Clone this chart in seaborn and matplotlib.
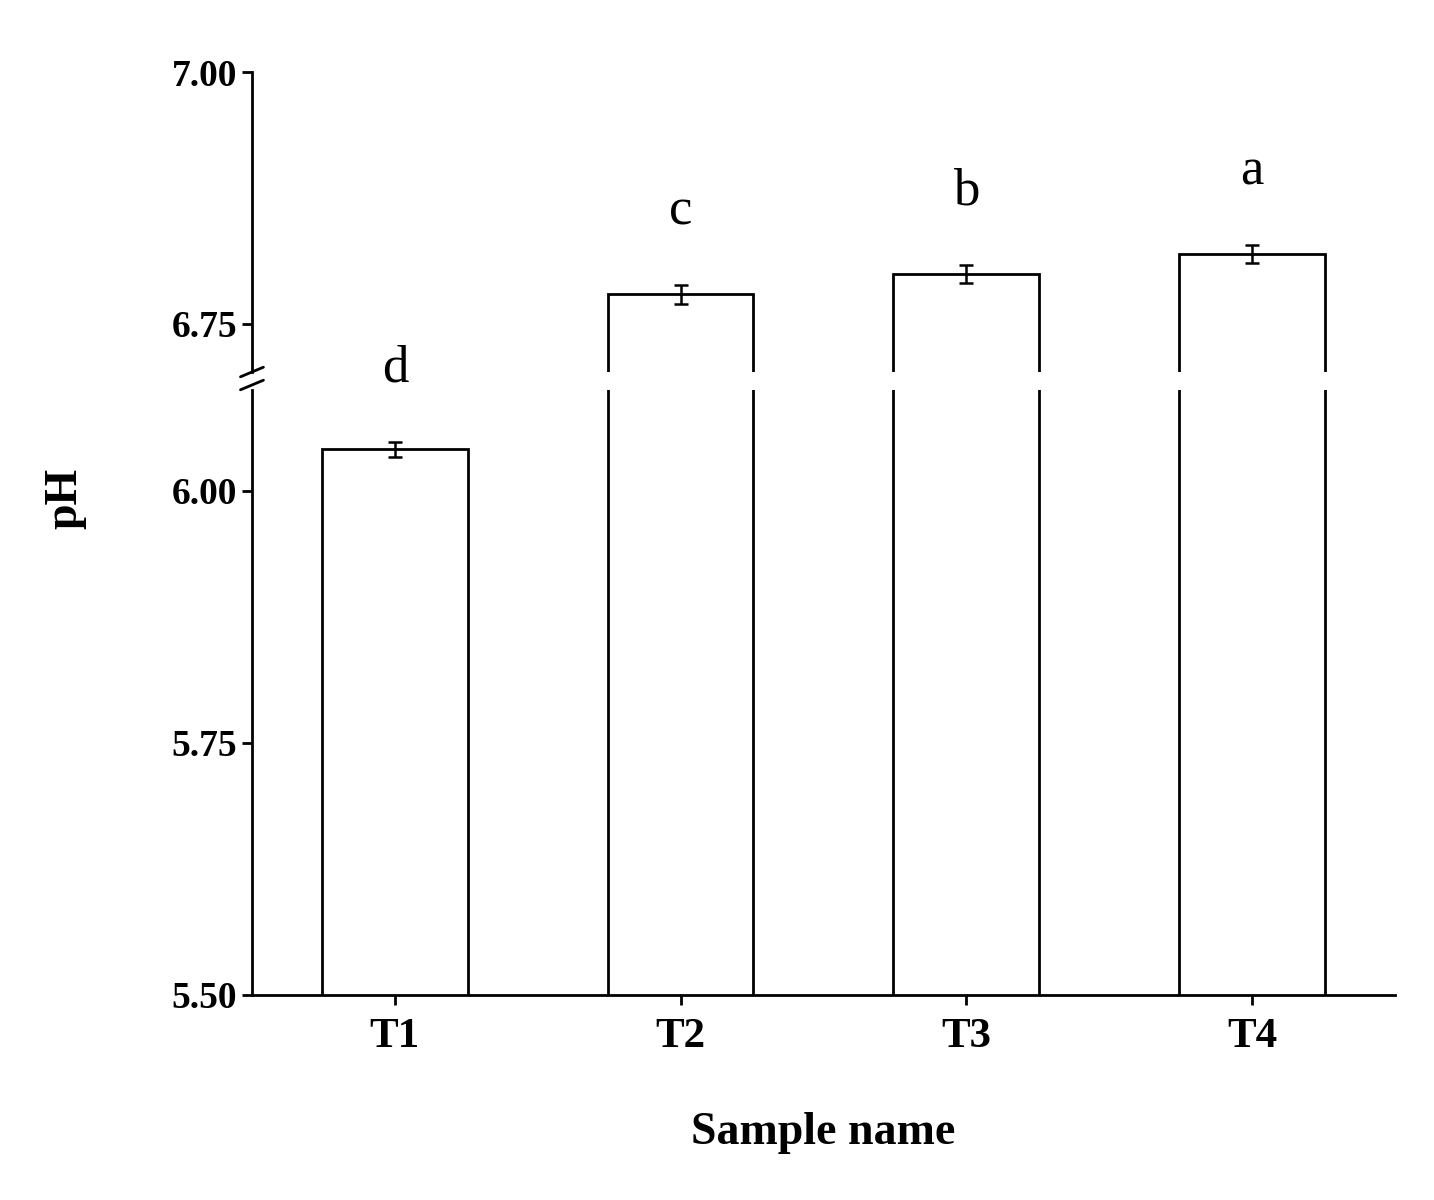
import matplotlib
matplotlib.use("Agg")
import matplotlib.pyplot as plt
import seaborn as sns
import pandas as pd

samples = ["T1", "T2", "T3", "T4"]
ph = [6.041, 6.779, 6.799, 6.819]
err = [0.007, 0.009, 0.009, 0.009]
letters = ["d", "c", "b", "a"]

sns.set_style("ticks")
plt.rcParams['font.family'] = ['Liberation Serif', 'DejaVu Serif']
plt.rcParams['text.color'] = 'black'
plt.rcParams['axes.labelcolor'] = 'black'
plt.rcParams['xtick.color'] = 'black'
plt.rcParams['ytick.color'] = 'black'
df = pd.DataFrame({"Sample": samples, "pH": ph})

fig = plt.figure(figsize=(14.34, 12), dpi=100)
axt = fig.add_axes([0.1757, 0.69, 0.797, 0.25])
axb = fig.add_axes([0.1757, 0.171, 0.797, 0.504])

for ax in (axt, axb):
    sns.barplot(data=df, x="Sample", y="pH", ax=ax, fill=False, width=0.51,
                color="black", linewidth=2, errorbar=None)
    for p in ax.patches:
        p.set_edgecolor("black")
        p.set_linewidth(2)
    ax.errorbar(range(4), ph, yerr=err, fmt="none", ecolor="black",
                elinewidth=1.8, capsize=5, capthick=1.8)
    ax.set_xlim(-0.5, 3.5)
    ax.tick_params(axis="both", width=2, length=7, labelsize=27)
    for s in ax.spines.values():
        s.set_linewidth(2)
        s.set_color("black")

axt.set_ylim(6.702, 7.0)
axt.set_yticks([6.75, 7.00])
axt.set_yticklabels(["6.75", "7.00"], fontweight="bold")
axt.spines["bottom"].set_visible(False)
axt.spines["top"].set_visible(False)
axt.spines["right"].set_visible(False)
axt.set_xticks([])
axt.set_xlabel("")
axt.set_ylabel("")

axb.set_ylim(5.50, 6.10)
axb.set_yticks([5.50, 5.75, 6.00])
axb.set_yticklabels(["5.50", "5.75", "6.00"], fontweight="bold")
axb.spines["top"].set_visible(False)
axb.spines["right"].set_visible(False)
axb.set_xticks(range(4))
axb.set_xticklabels(samples, fontweight="bold", fontsize=31)
axb.tick_params(axis="x", pad=10)
axb.set_xlabel("Sample name", fontsize=33, fontweight="bold", labelpad=40)
axb.set_ylabel("pH", fontsize=33, fontweight="bold", labelpad=35)
axb.yaxis.set_label_coords(-0.145, 0.82)

for i, (v, e, l) in enumerate(zip(ph, err, letters)):
    ax = axb if v < 6.5 else axt
    ax.annotate(l, (i, v + e), xytext=(0, 36), textcoords="offset points",
                ha="center", va="bottom", fontsize=38, color="black",
                annotation_clip=False)

kw = dict(transform=fig.transFigure, color="black", lw=2, clip_on=False)
x0 = 0.1757
for yy in (1 - 372/1200, 1 - 385/1200):
    fig.add_artist(plt.Line2D([x0 - 0.008, x0 + 0.008], [yy - 0.004, yy + 0.004], **kw))

fig.savefig("out.png", dpi=100, facecolor="white")
